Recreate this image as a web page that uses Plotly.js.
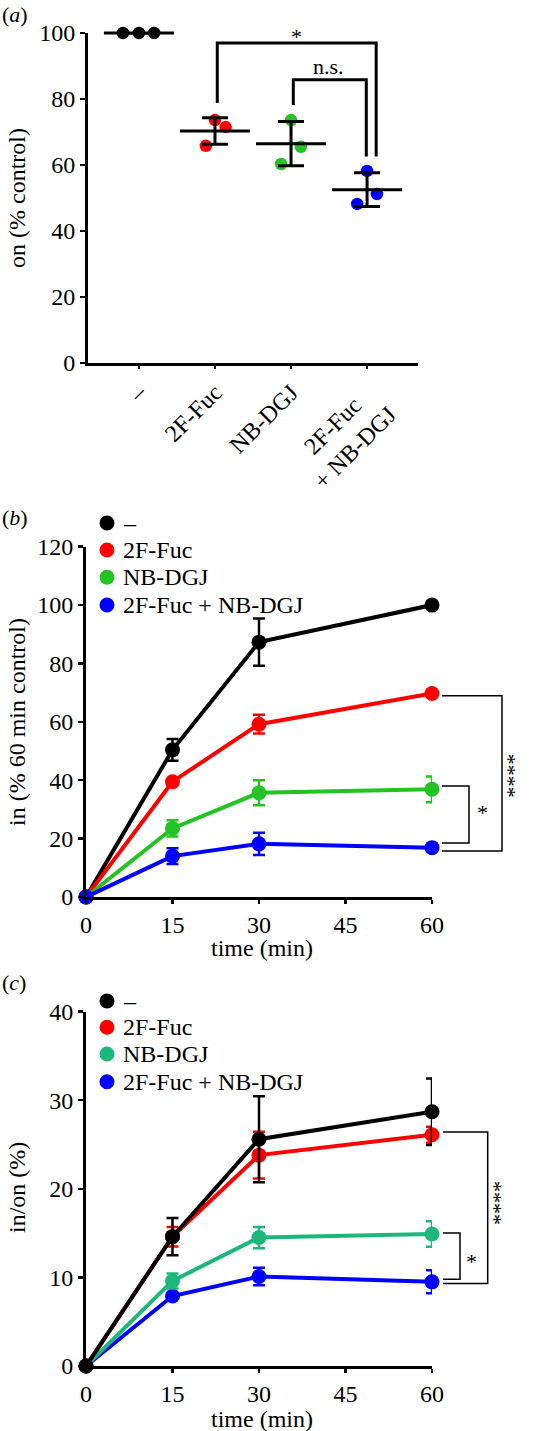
<!DOCTYPE html>
<html><head><meta charset="utf-8">
<script src="https://cdn.plot.ly/plotly-3.0.1.min.js"></script>
<style>html,body{margin:0;padding:0;background:#fff}#chart{width:534px;height:1431px}</style>
</head><body><div id="chart"></div>
<script>
// ---------- data: panel (a) ----------
const catLabels = ['\u2013', '2F-Fuc', 'NB-DGJ', '2F-Fuc\u00a0\u00a0\u00a0<br>+ NB-DGJ'];
const onCtrl = [100, 100, 100];
const onFuc  = [73.6, 71.5, 65.8];
const onDGJ  = [73.6, 65.5, 60.3];
const onBoth = [58.2, 51.2, 48.2];
const jitCtrl = [-0.21, 0, 0.2];
const jitFuc  = [0, 0.14, -0.12];
const jitDGJ  = [0, 0.13, -0.13];
const jitBoth = [0, 0.13, -0.13];

// ---------- data: panels (b) and (c) ----------
const timeMin = [0, 15, 30, 60];
const seriesNames = ['\u2013', '2F-Fuc', 'NB-DGJ', '2F-Fuc + NB-DGJ'];
const inCtrl = [0, 50.4, 87.3, 100],  inCtrlErr = [0, 3.7, 8.1, 0.5];
const inFuc  = [0, 39.5, 59.2, 69.7], inFucErr  = [0, 0.8, 3.2, 0.6];
const inDGJ  = [0, 23.5, 35.7, 36.9], inDGJErr  = [0, 2.8, 4.3, 4.4];
const inBoth = [0, 14.0, 18.2, 16.9], inBothErr = [0, 2.7, 3.8, 0.8];

const ioCtrl = [0, 14.6, 25.6, 28.7], ioCtrlErr = [0, 2.1, 4.85, 3.75];
const ioFuc  = [0, 14.6, 23.8, 26.1], ioFucErr  = [0, 1.1, 2.65, 0.9];
const ioDGJ  = [0, 9.6, 14.5, 14.9],  ioDGJErr  = [0, 0.85, 1.2, 1.45];
const ioBoth = [0, 7.9, 10.1, 9.5],   ioBothErr = [0, 0.3, 1.0, 1.3];

// ---------- styling ----------
const W = 534, H = 1431;
const px = x => x / W, py = y => 1 - y / H;
const FONT = 'Liberation Serif';
const BLACK = '#000000', RED = '#ff0000', GREEN = '#22c322', TEAL = '#1db77b', BLUE = '#0000ff';

function mean(a) { return a.reduce((s, v) => s + v, 0) / a.length; }
function sd(a) { const m = mean(a); return Math.sqrt(a.reduce((s, v) => s + (v - m) * (v - m), 0) / (a.length - 1)); }

const traces = [];
// panel a dots
[[onCtrl, jitCtrl, 0, BLACK], [onFuc, jitFuc, 1, RED], [onDGJ, jitDGJ, 2, GREEN], [onBoth, jitBoth, 3, BLUE]]
  .forEach(([vals, jit, ci, col]) => {
    traces.push({
      x: jit.map(j => ci + j), y: vals, type: 'scatter', mode: 'markers',
      marker: { size: 12.5, color: col }, xaxis: 'x', yaxis: 'y', cliponaxis: false, hoverinfo: 'skip'
    });
  });
// panel a mean +/- SD
const groups = [onCtrl, onFuc, onDGJ, onBoth];
traces.push({
  x: [0, 1, 2, 3], y: groups.map(mean), type: 'scatter', mode: 'markers',
  marker: { symbol: 'line-ew', size: 50, color: BLACK, line: { width: 3, color: BLACK } },
  error_y: { type: 'data', array: groups.map(sd), visible: true, width: 13, thickness: 3, color: BLACK },
  xaxis: 'x', yaxis: 'y', cliponaxis: false, hoverinfo: 'skip'
});

function series(y, err, col, xa, ya) {
  return {
    x: timeMin, y: y, type: 'scatter', mode: 'lines+markers',
    line: { color: col, width: 4 }, marker: { size: 15, color: col },
    error_y: { type: 'data', array: err, visible: true, width: 6, thickness: 2.5, color: col },
    xaxis: xa, yaxis: ya, cliponaxis: false, hoverinfo: 'skip'
  };
}
// panel b: blue on top
traces.push(series(inCtrl, inCtrlErr, BLACK, 'x2', 'y2'));
traces.push(series(inFuc, inFucErr, RED, 'x2', 'y2'));
traces.push(series(inDGJ, inDGJErr, GREEN, 'x2', 'y2'));
traces.push(series(inBoth, inBothErr, BLUE, 'x2', 'y2'));
// panel c: black on top
traces.push(series(ioBoth, ioBothErr, BLUE, 'x3', 'y3'));
traces.push(series(ioDGJ, ioDGJErr, TEAL, 'x3', 'y3'));
traces.push(series(ioFuc, ioFucErr, RED, 'x3', 'y3'));
traces.push(series(ioCtrl, ioCtrlErr, BLACK, 'x3', 'y3'));

const axBase = {
  showline: true, linewidth: 3, linecolor: BLACK, ticks: 'outside', tickcolor: BLACK,
  showgrid: false, zeroline: false, fixedrange: true,
  tickfont: { family: FONT, size: 24, color: BLACK }
};

const layout = {
  width: W, height: H, margin: { l: 0, r: 0, t: 0, b: 0 },
  paper_bgcolor: '#fff', plot_bgcolor: 'rgba(0,0,0,0)', showlegend: false,
  font: { family: FONT, size: 24, color: BLACK },
  xaxis: Object.assign({}, axBase, {
    domain: [px(88), px(418)], range: [-0.67, 3.67], anchor: 'y',
    tickvals: [0, 1, 2, 3], ticktext: catLabels, tickangle: -45, ticklen: 3, tickwidth: 2.5
  }),
  yaxis: Object.assign({}, axBase, {
    domain: [py(363), py(33)], range: [0, 100], anchor: 'x',
    tickvals: [0, 20, 40, 60, 80, 100], ticklen: 5, tickwidth: 2.5
  }),
  xaxis2: Object.assign({}, axBase, {
    domain: [px(86), px(432)], range: [0, 60], anchor: 'y2',
    tickvals: [0, 15, 30, 45, 60], ticklen: 4, tickwidth: 2.5
  }),
  yaxis2: Object.assign({}, axBase, {
    domain: [py(897), py(546.7)], range: [0, 120], anchor: 'x2',
    tickvals: [0, 20, 40, 60, 80, 100, 120], ticklen: 5, tickwidth: 2.5
  }),
  xaxis3: Object.assign({}, axBase, {
    domain: [px(86), px(432)], range: [0, 60], anchor: 'y3',
    tickvals: [0, 15, 30, 45, 60], ticklen: 4, tickwidth: 2.5
  }),
  yaxis3: Object.assign({}, axBase, {
    domain: [py(1366), py(1011.6)], range: [0, 40], anchor: 'x3',
    tickvals: [0, 10, 20, 30, 40], ticklen: 5, tickwidth: 2.5
  }),
  shapes: [],
  annotations: []
};

const S = layout.shapes, A = layout.annotations;
// panel a significance brackets
S.push({ type: 'path', xref: 'x', yref: 'y', path: 'M 1.03,78.8 L 1.03,97 L 3.12,97 L 3.12,62.6', line: { color: BLACK, width: 3 } });
S.push({ type: 'path', xref: 'x', yref: 'y', path: 'M 2.03,78.2 L 2.03,85.8 L 2.99,85.8 L 2.99,62.6', line: { color: BLACK, width: 3 } });
A.push({ xref: 'x', yref: 'y', x: 2.07, y: 99, text: '*', showarrow: false, font: { size: 22 }, xanchor: 'center', yanchor: 'middle' });
A.push({ xref: 'x', yref: 'y', x: 2.49, y: 89.7, text: 'n.s.', showarrow: false, font: { size: 22 }, xanchor: 'center', yanchor: 'middle' });

// panel b brackets
S.push({ type: 'path', xref: 'paper', yref: 'y2', path: `M ${px(442)},68.9 L ${px(502)},68.9 L ${px(502)},15.8 L ${px(442)},15.8`, line: { color: BLACK, width: 1.5 } });
S.push({ type: 'path', xref: 'paper', yref: 'y2', path: `M ${px(442)},38.0 L ${px(469)},38.0 L ${px(469)},18.5 L ${px(442)},18.5`, line: { color: BLACK, width: 1.5 } });
A.push({ xref: 'paper', yref: 'y2', x: px(508), y: 41.5, text: '****', textangle: 90, showarrow: false, font: { size: 22 }, xanchor: 'center', yanchor: 'middle' });
A.push({ xref: 'paper', yref: 'y2', x: px(482), y: 28.8, text: '*', showarrow: false, font: { size: 22 }, xanchor: 'center', yanchor: 'middle' });

// panel c brackets
S.push({ type: 'path', xref: 'paper', yref: 'y3', path: `M ${px(443)},26.4 L ${px(487.7)},26.4 L ${px(487.7)},9.3 L ${px(443)},9.3`, line: { color: BLACK, width: 1.5 } });
S.push({ type: 'path', xref: 'paper', yref: 'y3', path: `M ${px(443)},15.0 L ${px(460)},15.0 L ${px(460)},9.8 L ${px(443)},9.8`, line: { color: BLACK, width: 1.5 } });
A.push({ xref: 'paper', yref: 'y3', x: px(494), y: 18.4, text: '****', textangle: 90, showarrow: false, font: { size: 22 }, xanchor: 'center', yanchor: 'middle' });
A.push({ xref: 'paper', yref: 'y3', x: px(471), y: 11.85, text: '*', showarrow: false, font: { size: 22 }, xanchor: 'center', yanchor: 'middle' });

// legends (b, c)
function legend(rows, cols) {
  rows.forEach((ry, i) => {
    S.push({ type: 'circle', xref: 'paper', yref: 'paper', xsizemode: 'pixel', ysizemode: 'pixel',
      xanchor: px(107), yanchor: py(ry), x0: -7.5, x1: 7.5, y0: -7.5, y1: 7.5,
      fillcolor: cols[i], line: { width: 0 } });
    A.push({ xref: 'paper', yref: 'paper', x: px(121), y: py(ry), text: seriesNames[i], showarrow: false,
      font: { size: 24 }, xanchor: 'left', yanchor: 'middle' });
  });
}
legend([523, 550, 577.3, 605], [BLACK, RED, GREEN, BLUE]);
legend([1001, 1027.3, 1054, 1081.7], [BLACK, RED, TEAL, BLUE]);

// panel labels
[['(<i>a</i>)', 15], ['(<i>b</i>)', 518], ['(<i>c</i>)', 983]].forEach(([t, y]) => {
  A.push({ xref: 'paper', yref: 'paper', x: 0, y: py(y), text: t, showarrow: false, font: { size: 22 }, xanchor: 'left', yanchor: 'middle' });
});
// axis titles
[['on (% control)', 198], ['in (% 60 min control)', 722], ['in/on (%)', 1188]].forEach(([t, y]) => {
  A.push({ xref: 'paper', yref: 'paper', x: px(17), y: py(y), text: t, textangle: -90, showarrow: false, font: { size: 24 }, xanchor: 'center', yanchor: 'middle' });
});
[948, 1419].forEach(y => {
  A.push({ xref: 'paper', yref: 'paper', x: px(262), y: py(y), text: 'time (min)', showarrow: false, font: { size: 24 }, xanchor: 'center', yanchor: 'middle' });
});

Plotly.newPlot('chart', traces, layout, { displayModeBar: false, staticPlot: true });
</script>
</body></html>
